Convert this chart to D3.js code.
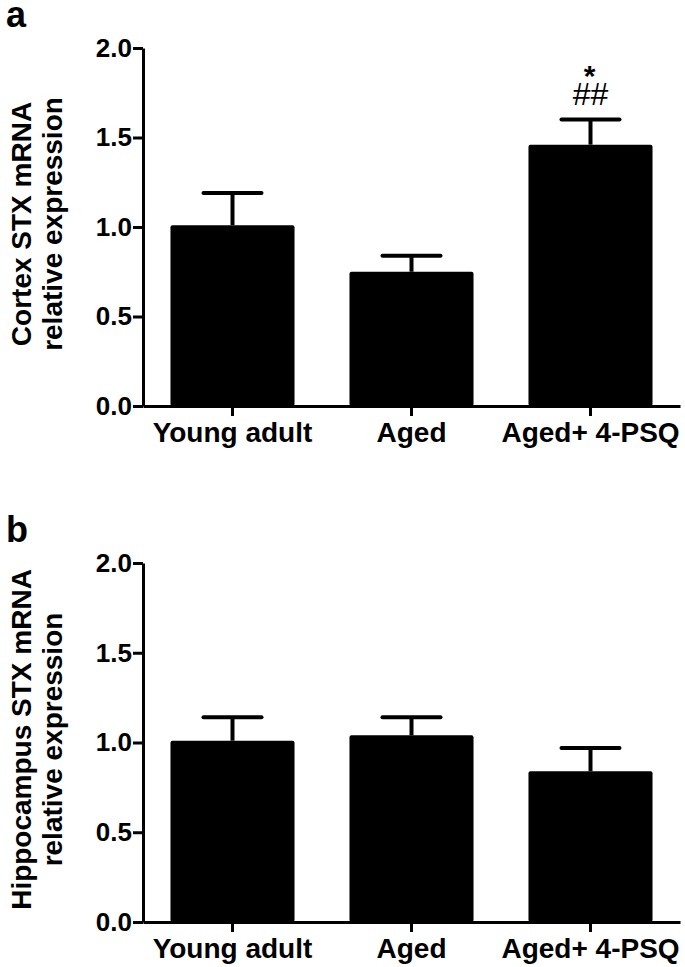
<!DOCTYPE html>
<html>
<head>
<meta charset="utf-8">
<script src="https://cdn.jsdelivr.net/npm/d3@7"></script>
<style>
  body { margin: 0; background: #fff; }
  svg text { font-family: "Liberation Sans", Arial, sans-serif; }
</style>
</head>
<body>
<svg id="fig" width="685" height="967"></svg>
<script>
// values
var groups = ["Young adult", "Aged", "Aged+ 4-PSQ"];
var cortexMean = [1.01, 0.75, 1.46];
var cortexErr = [0.18, 0.09, 0.14];
var hippoMean = [1.01, 1.04, 0.84];
var hippoErr = [0.13, 0.10, 0.13];
var yTicks = [0, 0.5, 1.0, 1.5, 2.0];
var cortexMarks = ["", "", "*"];
var cortexHash = ["", "", "##"];

var svg = d3.select("svg#fig");

var x = d3.scaleBand()
    .domain(groups)
    .range([143, 680])
    .paddingInner(0.307)
    .paddingOuter(0.1535);

function drawPanel(letter, top, bottom, means, errs, titleLines, hash, stars) {
    var y = d3.scaleLinear().domain([0, 2]).range([bottom, top]);
    var g = svg.append("g");

    // panel letter
    g.append("text")
        .attr("x", 6).attr("y", top - 21)
        .attr("font-size", 36).attr("font-weight", "bold")
        .text(letter);

    // bars
    g.selectAll("rect.bar")
        .data(means)
        .enter().append("rect")
        .classed("bar", true)
        .attr("x", (d, i) => x(groups[i]))
        .attr("width", x.bandwidth())
        .attr("y", d => y(d))
        .attr("height", d => y(0) - y(d))
        .attr("rx", 2)
        .attr("fill", "#000");

    // error bars (upper only)
    means.forEach(function (m, i) {
        var cx = x(groups[i]) + x.bandwidth() / 2;
        var hw = x.bandwidth() / 4;
        g.append("line")
            .attr("x1", cx).attr("x2", cx)
            .attr("y1", y(m)).attr("y2", y(m + errs[i]))
            .attr("stroke", "#000").attr("stroke-width", 4);
        g.append("line")
            .attr("x1", cx - hw + 2).attr("x2", cx + hw - 2)
            .attr("y1", y(m + errs[i])).attr("y2", y(m + errs[i]))
            .attr("stroke", "#000").attr("stroke-width", 4)
            .attr("stroke-linecap", "round");
        if (hash && hash[i]) {
            g.append("text")
                .attr("x", cx).attr("y", y(m + errs[i]) - 15)
                .attr("text-anchor", "middle")
                .attr("font-size", 32)
                .text(hash[i]);
        }
        if (stars && stars[i]) {
            g.append("text")
                .attr("x", cx - 1).attr("y", y(m + errs[i]) - 34)
                .attr("text-anchor", "middle")
                .attr("font-size", 30).attr("font-weight", "bold")
                .text(stars[i]);
        }
    });

    // y axis
    var ya = g.append("g")
        .attr("transform", "translate(143,0)")
        .call(d3.axisLeft(y).tickValues(yTicks).tickFormat(d3.format(".1f"))
            .tickSize(10).tickSizeOuter(0).tickPadding(1));
    // x axis
    var xa = g.append("g")
        .attr("transform", "translate(0," + bottom + ")")
        .call(d3.axisBottom(x).tickSize(10).tickSizeOuter(0).tickPadding(6));

    [ya, xa].forEach(function (a) {
        a.select(".domain").attr("stroke", "#000").attr("stroke-width", 3);
        a.selectAll(".tick line").attr("stroke", "#000").attr("stroke-width", 3);
        a.selectAll("text").attr("fill", "#000").attr("font-weight", "bold")
            .attr("font-family", "'Liberation Sans', Arial, sans-serif");
    });
    ya.selectAll("text").attr("font-size", 26);
    xa.selectAll("text").attr("font-size", 28);

    // y title
    var cy = (top + bottom) / 2 - 3;
    var t = g.append("text")
        .attr("transform", "translate(0," + cy + ") rotate(-90)")
        .attr("text-anchor", "middle")
        .attr("font-size", 28).attr("font-weight", "bold");
    t.append("tspan").attr("x", 0).attr("y", 31).text(titleLines[0]);
    t.append("tspan").attr("x", 0).attr("y", 62).text(titleLines[1]);
}

drawPanel("a", 48, 406, cortexMean, cortexErr,
    ["Cortex STX mRNA", "relative expression"], cortexHash, cortexMarks);
drawPanel("b", 563, 922, hippoMean, hippoErr,
    ["Hippocampus STX mRNA", "relative expression"], null, null);
</script>
</body>
</html>
